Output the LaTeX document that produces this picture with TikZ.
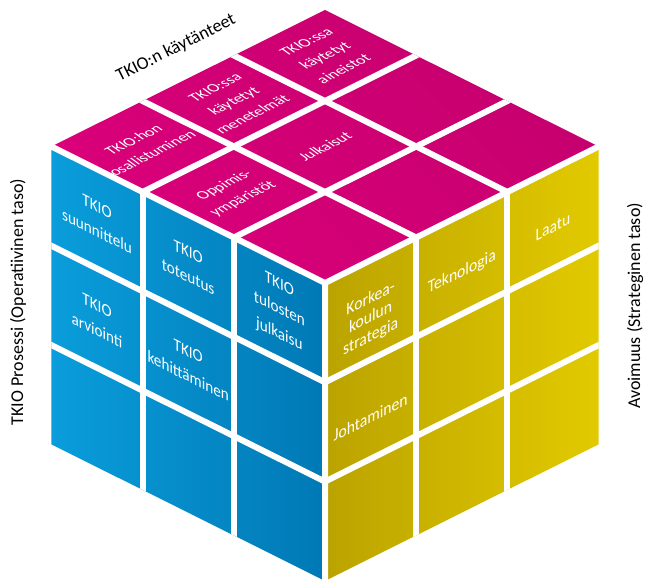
\documentclass[tikz,border=0pt]{standalone}
\usepackage{fontspec}
\setmainfont{Carlito}

\definecolor{magfront}{HTML}{DA007A}
\definecolor{magback}{HTML}{C6006E}
\definecolor{bluelight}{HTML}{0A9DDB}
\definecolor{bluedark}{HTML}{0079B5}
\definecolor{yeldark}{HTML}{BBA300}
\definecolor{yellight}{HTML}{E2CA00}

\tikzset{
  gap/.style={draw=white,line width=6pt},
  toptext/.style={text=white,align=center,font=\fontsize{15.5}{23}\selectfont,cm={0.894,0.447,-0.81,0.585,(0,0)}},
  lefttext/.style={text=white,align=center,font=\fontsize{17}{25}\selectfont,cm={0.894,-0.447,0,1,(0,0)}},
  righttext/.style={text=white,align=center,font=\fontsize{17.5}{19}\selectfont,yshift=-8pt,cm={0.894,0.447,0,1,(0,0)}},
  axistext/.style={text=black,font=\fontsize{18}{22}\selectfont}
}

\begin{document}
\begin{tikzpicture}[x=1pt,y=1pt]
	\useasboundingbox (0,0) rectangle (645,581);
	\coordinate (F) at (325,298);
	\coordinate (W) at (51.4,434.5);
	\coordinate (E) at (598.6,434.5);
	\coordinate (S) at (325,0.1);
	% top face
	\begin{scope}[cm={91.2,45.5,-91.2,45.5,(325,298)}]
		\clip (0,0) rectangle (3,3);
		\shade[bottom color=magfront,top color=magback,shading angle=-45] (0,0) rectangle (3,3);
		\foreach \k in {1,2} {
			\draw[gap] (\k,-1) -- (\k,4);
			\draw[gap] (-1,\k) -- (4,\k);
		}
		\foreach \a in {0,1,2} \foreach \b in {0,1,2} \coordinate (top\a\b) at (\a+.5,\b+.5);
	\end{scope}
	% left face
	\begin{scope}[cm={91.2,-45.5,0,99.3,(51.4,136.6)}]
		\clip (0,0) rectangle (3,3);
		\shade[left color=bluelight,right color=bluedark] (0,0) rectangle (3,3);
		\foreach \k in {1,2} {
			\draw[gap] (\k,-1) -- (\k,4);
			\draw[gap] (-1,\k) -- (4,\k);
		}
		\foreach \a in {0,1,2} \foreach \b in {0,1,2} \coordinate (left\a\b) at (\a+.5,\b+.5);
	\end{scope}
	% right face
	\begin{scope}[cm={91.2,45.5,0,99.3,(325,0.1)}]
		\clip (0,0) rectangle (3,3);
		\shade[left color=yeldark,right color=yellight] (0,0) rectangle (3,3);
		\foreach \k in {1,2} {
			\draw[gap] (\k,-1) -- (\k,4);
			\draw[gap] (-1,\k) -- (4,\k);
		}
		\foreach \a in {0,1,2} \foreach \b in {0,1,2} \coordinate (right\a\b) at (\a+.5,\b+.5);
	\end{scope}
	\draw[gap,line cap=round,line join=round] (W) -- (F) -- (E) (F) -- (S);

	\node[toptext] (hon) at (top02) {TKIO:hon\\osallistuminen};
	\node[toptext] (menetelmat) at (top12) {TKIO:ssa\\käytetyt\\menetelmät};
	\node[toptext] (aineistot) at (top22) {TKIO:ssa\\käytetyt\\aineistot};
	\node[toptext] (oppimis) at (top01) {Oppimis-\\ympäristöt};
	\node[toptext] (julkaisut) at (top11) {Julkaisut};

	\node[lefttext] (suunnittelu) at (left02) {TKIO\\suunnittelu};
	\node[lefttext] (arviointi) at (left01) {TKIO\\arviointi};
	\node[lefttext] (toteutus) at (left12) {TKIO\\toteutus};
	\node[lefttext] (kehittaminen) at (left11) {TKIO\\kehittäminen};
	\node[lefttext] (tulosten) at (left22) {TKIO\\tulosten\\julkaisu};

	\node[righttext] (strategia) at (right02) {Korkea-\\koulun\\strategia};
	\node[righttext] (johtaminen) at (right01) {Johtaminen};
	\node[righttext] (teknologia) at (right12) {Teknologia};
	\node[righttext] (laatu) at (right22) {Laatu};

	\node[axistext,rotate=26.6] (kaytanteet) at (176,533) {TKIO:n käytänteet};
	\node[axistext,rotate=90] (prosessi) at (18,279) {TKIO Prosessi (Operatiivinen taso)};
	\node[axistext,rotate=90] (avoimuus) at (635,275) {Avoimuus (Strateginen taso)};
\end{tikzpicture}
\end{document}
